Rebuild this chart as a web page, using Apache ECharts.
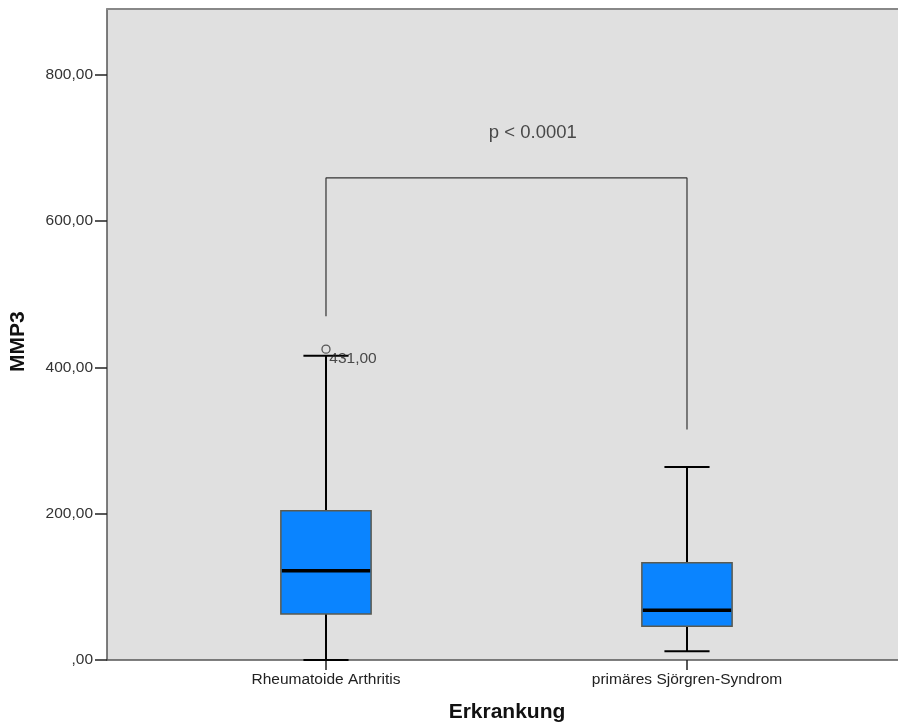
<!DOCTYPE html>
<html><head><meta charset="utf-8">
<script src="https://cdn.jsdelivr.net/npm/echarts@6/dist/echarts.min.js"></script>
<style>html,body{margin:0;padding:0;background:#fff}#c{width:898px;height:726px}</style>
</head><body><div id="c"></div>
<script>
var categories = ['Rheumatoide Arthritis', 'primäres Sjörgren-Syndrom'];
// [min, Q1, median, Q3, max]
var boxValues = [[0, 63, 122, 204, 416], [12, 46, 68, 133, 264]];
var outlierValues = [[1, 425]];
var outlierLabels = ['431,00'];
var yTicks = [0, 200, 400, 600, 800];
var bracketTop = 659;
var bracketLeftBottom = 470;
var bracketRightBottom = 315;
var pValueY = 721;
var pValueText = 'p < 0.0001';

var FONT = 'Liberation Sans, Arial, sans-serif';
var chart = echarts.init(document.getElementById('c'));

function fmtY(v) {
  if (v === 0) return ',00';
  return v.toFixed(2).replace('.', ',');
}

var boxItems = boxValues.map(function (b, i) { return [i + 1].concat(b); });

chart.setOption({
  animation: false,
  grid: { left: 107, top: 9, right: 0, bottom: 66, show: true, backgroundColor: '#e0e0e0', borderWidth: 0 },
  xAxis: [{
    type: 'value', min: 0.3934, max: 2.5845,
    splitLine: { show: false },
    axisLine: { show: true, lineStyle: { color: '#555', width: 1.5 } },
    axisTick: { show: true, customValues: [1, 2], length: 10, lineStyle: { color: '#222', width: 1.5 } },
    axisLabel: { customValues: [1, 2], formatter: function (v) { return categories[Math.round(v) - 1] || ''; },
      color: '#222', fontSize: 15.5, fontFamily: FONT, margin: 12 }
  }, {
    type: 'value', position: 'top', min: 0.3934, max: 2.5845,
    splitLine: { show: false },
    axisLine: { show: true, lineStyle: { color: '#888', width: 2 } },
    axisTick: { show: false }, axisLabel: { show: false }
  }],
  yAxis: {
    type: 'value', min: 0, max: 890,
    splitLine: { show: false },
    axisLine: { show: true, lineStyle: { color: '#555', width: 1.5 } },
    axisTick: { show: true, customValues: yTicks, length: 12, lineStyle: { color: '#222', width: 1.5 } },
    axisLabel: { customValues: yTicks, formatter: fmtY, color: '#333', fontSize: 15.5, fontFamily: FONT, margin: 14 }
  },
  graphic: [
    { type: 'text', x: 507, y: 702, style: { text: 'Erkrankung', font: 'bold 21px ' + FONT, fill: '#111', textAlign: 'center', textVerticalAlign: 'top' } },
    { type: 'text', x: 8, y: 372, rotation: Math.PI / 2, style: { text: 'MMP3', font: 'bold 21px ' + FONT, fill: '#111' } }
  ],
  series: [{
    type: 'custom',
    data: boxItems,
    encode: { x: 0, y: [1, 2, 3, 4, 5] },
    renderItem: function (params, api) {
      var x = api.value(0);
      var vmin = api.value(1), q1 = api.value(2), med = api.value(3), q3 = api.value(4), vmax = api.value(5);
      var hw = 0.125, cw = 0.0625;
      var pL = api.coord([x - hw, q3]), pR = api.coord([x + hw, q1]);
      var c = api.coord([x, med]);
      var cl = api.coord([x - cw, vmin])[0], cr = api.coord([x + cw, vmin])[0];
      var yMin = api.coord([x, vmin])[1], yMax = api.coord([x, vmax])[1];
      var yQ1 = pR[1], yQ3 = pL[1];
      var lw = { stroke: '#000', lineWidth: 2 };
      return { type: 'group', children: [
        { type: 'line', shape: { x1: c[0], y1: yQ1, x2: c[0], y2: yMin }, style: lw },
        { type: 'line', shape: { x1: c[0], y1: yQ3, x2: c[0], y2: yMax }, style: lw },
        { type: 'line', shape: { x1: cl, y1: yMin, x2: cr, y2: yMin }, style: lw },
        { type: 'line', shape: { x1: cl, y1: yMax, x2: cr, y2: yMax }, style: lw },
        { type: 'rect', shape: { x: pL[0], y: yQ3, width: pR[0] - pL[0], height: yQ1 - yQ3 }, style: { fill: '#0a84ff', stroke: '#5a5a50', lineWidth: 1.5 } },
        { type: 'line', shape: { x1: pL[0] + 1, y1: c[1], x2: pR[0] - 1, y2: c[1] }, style: { stroke: '#000', lineWidth: 3.5 } }
      ] };
    },
    z: 3
  }, {
    type: 'scatter',
    data: outlierValues,
    symbol: 'circle', symbolSize: 8,
    itemStyle: { color: 'transparent', borderColor: '#333', borderWidth: 1.3 },
    label: { show: true, position: [8, 6], formatter: function (p) { return outlierLabels[p.dataIndex]; }, color: '#222', fontSize: 15.5, fontFamily: FONT },
    z: 4
  }, {
    type: 'line',
    data: [[1, bracketLeftBottom], [1, bracketTop], [2, bracketTop], [2, bracketRightBottom]],
    symbol: 'none',
    lineStyle: { color: '#333', width: 1.2 },
    z: 2
  }, {
    type: 'scatter',
    data: [[1.573, pValueY]],
    symbolSize: 0,
    label: { show: true, position: 'inside', formatter: pValueText, color: '#222', fontSize: 18.5, fontFamily: FONT },
    z: 4
  }]
});
</script>
</body></html>
